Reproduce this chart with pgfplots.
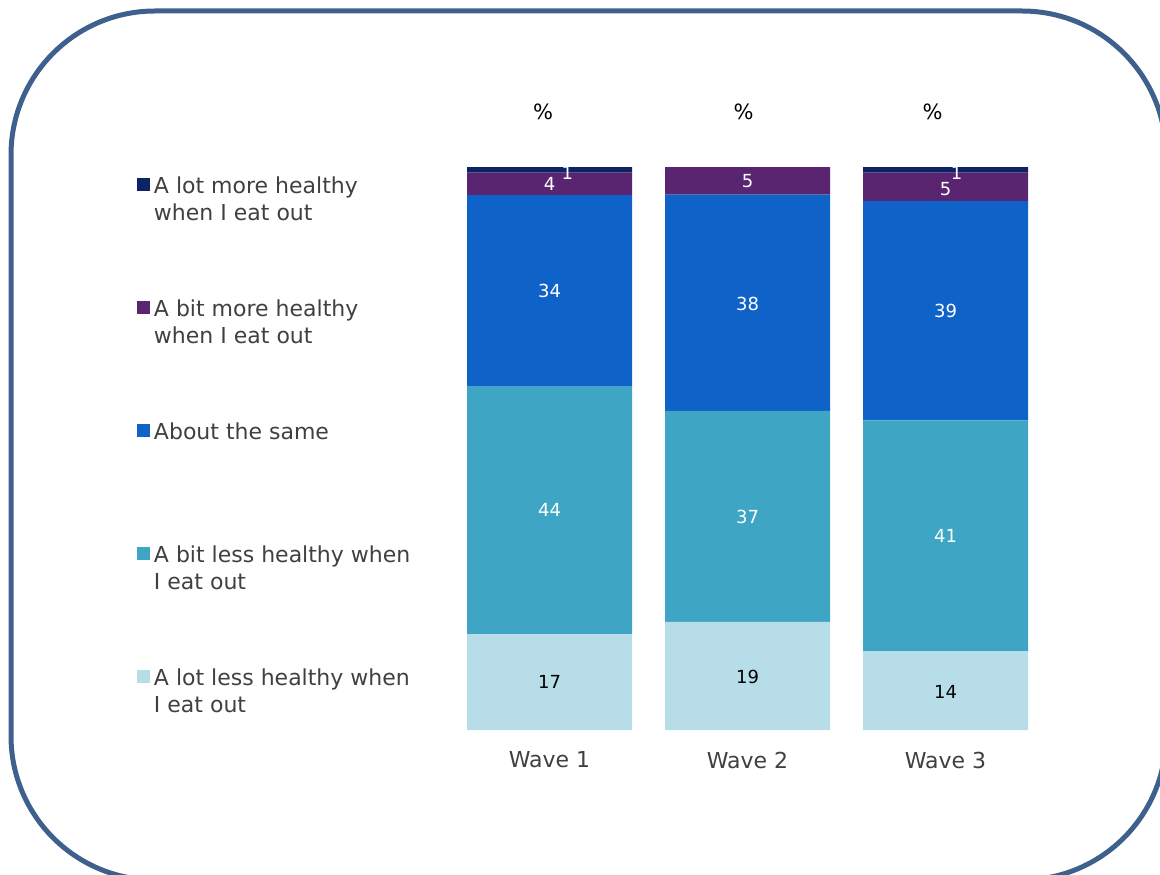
\documentclass[border=0pt]{standalone}
\usepackage{fontspec}
\setmainfont{DejaVu Sans}
\usepackage{pgfplots}
\pgfplotsset{compat=1.18}
\definecolor{c1}{HTML}{B7DDE8}
\definecolor{c2}{HTML}{3EA6C4}
\definecolor{c3}{HTML}{0E62C8}
\definecolor{c4}{HTML}{592570}
\definecolor{c5}{HTML}{0E2364}
\definecolor{bord}{HTML}{3D608C}
\definecolor{txt}{HTML}{404040}
\protected\def\lgd#1#2{\parbox[t]{160pt}{\strut #1\par\strut #2}}
\protected\def\lgdone#1{\parbox[t]{160pt}{\strut #1}}
\begin{document}
\begin{tikzpicture}
\path[use as bounding box] (0pt,0pt) rectangle (580pt,437pt);
\clip (0pt,0pt) rectangle (580pt,437pt);
\draw[bord, line width=2.5pt, rounded corners=72pt] (5.5pt,431.5pt) rectangle (583pt,-3pt);
\begin{axis}[
  at={(225.25pt,72pt)}, anchor=south west,
  scale only axis, width=297pt, height=281.5pt,
  xmin=-0.5, xmax=2.5, ymin=0, ymax=100,
  ybar stacked, bar width=82.5pt,
  axis line style={draw=none}, major tick length=0pt,
  ytick=\empty, xtick={0,1,2}, xticklabels={Wave 1,Wave 2,Wave 3},
  xticklabel style={anchor=center, yshift=-15pt, inner sep=0pt,
    font=\fontsize{11}{13.25}\selectfont, text=txt},
  clip=false, reverse legend,
  legend style={draw=none, fill=none, at={(-0.5278,0.9858)}, anchor=north west,
    inner sep=0pt, outer sep=0pt, row sep=0pt, column sep=2pt,
    nodes={inner sep=0pt, anchor=base west, text=txt, font=\fontsize{11}{13.25}\selectfont,
      text height=9.275pt, text depth=52.225pt}},
]
\addplot[fill=c1, draw=none, legend image code/.code={\fill[c1] (0pt,1.25pt) rectangle (6.5pt,7.75pt);}]
  coordinates {(0,17) (1,19.2) (2,14)};
\addlegendentry{\lgd{A lot less healthy when}{I eat out}}
\addplot[fill=c2, draw=none, legend image code/.code={\fill[c2] (0pt,1.25pt) rectangle (6.5pt,7.75pt);}]
  coordinates {(0,44) (1,37.5) (2,41)};
\addlegendentry{\lgd{A bit less healthy when}{I eat out}}
\addplot[fill=c3, draw=none, legend image code/.code={\fill[c3] (0pt,1.25pt) rectangle (6.5pt,7.75pt);}]
  coordinates {(0,34) (1,38.4) (2,39)};
\addlegendentry{\lgdone{About the same}}
\addplot[fill=c4, draw=none, legend image code/.code={\fill[c4] (0pt,1.25pt) rectangle (6.5pt,7.75pt);}]
  coordinates {(0,4) (1,4.9) (2,5)};
\addlegendentry{\lgd{A bit more healthy}{when I eat out}}
\addplot[fill=c5, draw=none, legend image code/.code={\fill[c5] (0pt,1.25pt) rectangle (6.5pt,7.75pt);}]
  coordinates {(0,1) (1,0) (2,1)};
\addlegendentry{\lgd{A lot more healthy}{when I eat out}}
\node[black, font=\fontsize{10.5}{12}\selectfont, inner sep=0pt, yshift=27.5pt, xshift=-3.25pt] at (axis cs:0,100) {\%};
\node[black, font=\fontsize{10.5}{12}\selectfont, inner sep=0pt, yshift=27.5pt, xshift=-2pt] at (axis cs:1,100) {\%};
\node[black, font=\fontsize{10.5}{12}\selectfont, inner sep=0pt, yshift=27.5pt, xshift=-6.5pt] at (axis cs:2,100) {\%};
\end{axis}
% value labels, overlaid on the same geometry
\begin{axis}[
  at={(225.25pt,72pt)}, anchor=south west,
  scale only axis, width=297pt, height=281.5pt,
  xmin=-0.5, xmax=2.5, ymin=0, ymax=100,
  hide axis, clip=false,
  nodes near coords, nodes near coords align={center},
  point meta=explicit symbolic,
  every node near coord/.append style={anchor=center, inner sep=0pt, font=\fontsize{9}{10}\selectfont},
]
\addplot[draw=none, mark=none, every node near coord/.append style={text=black}]
  table[meta=lab] {
x y lab
0 8.5 17
1 9.4 19
2 6.75 14
};
\addplot[draw=none, mark=none, every node near coord/.append style={text=white}]
  table[meta=lab] {
x y lab
0 39 44
0 78 34
0 97 4
0.09 98.9 1
1 37.8 37
1 75.7 38
1 97.5 5
2 34.5 41
2 74.4 39
2 96 5
2.056 98.9 1
};
\end{axis}
\end{tikzpicture}
\end{document}
